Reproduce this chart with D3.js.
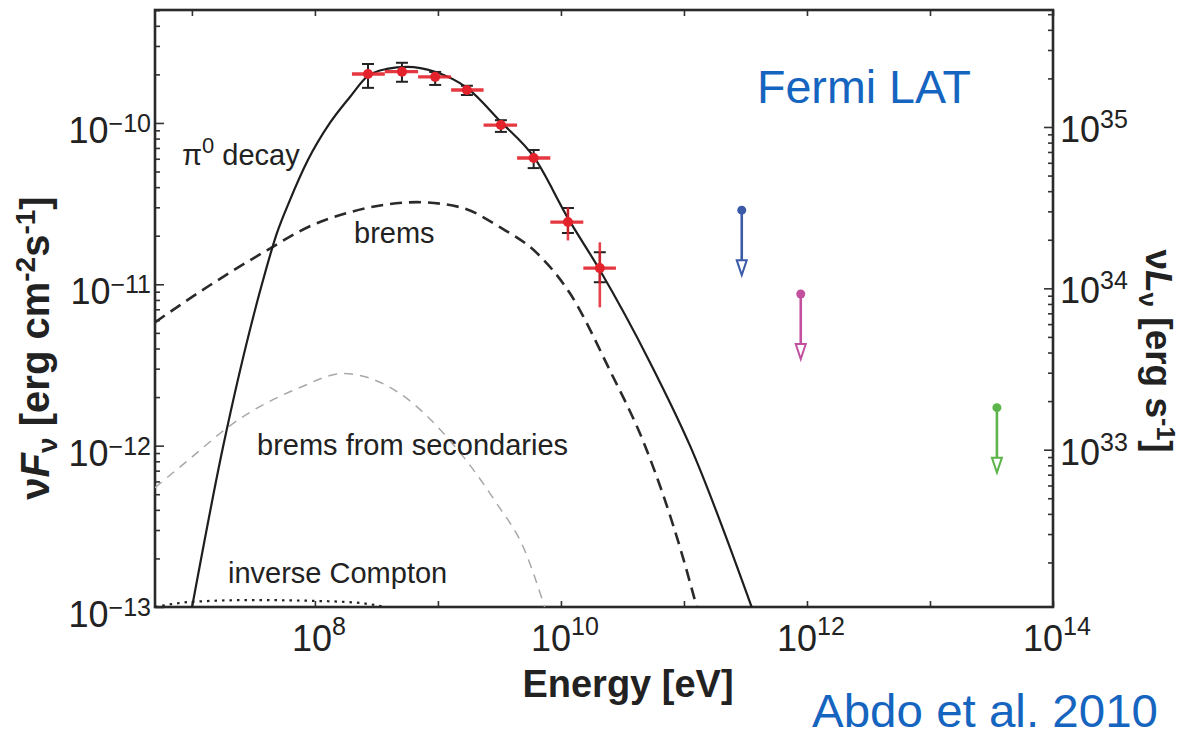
<!DOCTYPE html>
<html>
<head>
<meta charset="utf-8">
<script src="https://cdn.jsdelivr.net/npm/d3@7"></script>
<style>
  body { margin: 0; background: #fff; }
  svg { display: block; }
  text { font-family: "Liberation Sans", Arial, Helvetica, sans-serif; fill: #222; }
</style>
</head>
<body>
<svg id="lienzo" width="1185" height="736"></svg>
<script>

// Fermi LAT points (energy in eV, nuFnu in erg cm^-2 s^-1)
const energy   = [2.7e8, 5.1e8, 9.5e8, 1.72e9, 3.25e9, 6.0e9, 1.14e10, 2.07e10];
const binEdges = [2.0e8, 3.7e8, 6.9e8, 1.28e9, 2.35e9, 4.4e9, 8.2e9, 1.52e10, 2.8e10];
const flux     = [2.01e-10, 2.08e-10, 1.93e-10, 1.60e-10, 9.7e-11, 6.07e-11, 2.43e-11, 1.26e-11];
const fluxLo   = [1.65e-10, 1.80e-10, 1.72e-10, 1.49e-10, 8.8e-11, 5.25e-11, 2.08e-11, 1.03e-11];
const fluxHi   = [2.32e-10, 2.36e-10, 2.07e-10, 1.70e-10, 1.04e-10, 6.8e-11, 2.97e-11, 1.58e-11];
const sysLo    = [1.90e-10, 1.97e-10, 1.83e-10, 1.52e-10, 9.2e-11, 5.7e-11, 1.87e-11, 7.2e-12];
const sysHi    = [2.12e-10, 2.20e-10, 2.03e-10, 1.68e-10, 1.02e-10, 6.45e-11, 3.0e-11, 1.82e-11];

// upper limits (TeV instruments)
const ulEnergy = [2.95e11, 8.9e11, 3.5e13];
const ulFlux   = [2.88e-11, 8.7e-12, 1.72e-12];
const ulColor  = ['#3b5ba9', '#c2509e', '#5cb54a'];

// model curves, log10 E [eV] vs log10 nuFnu
const pi0LogE = [7.0, 7.252, 7.569, 7.691, 7.797, 7.943, 8.122, 8.285, 8.431, 8.585, 8.748, 8.976, 9.236, 9.512, 9.780, 10.057, 10.317, 10.724, 11.049, 11.553];
const pi0LogF = [-13.006, -12.012, -11.0, -10.683, -10.478, -10.230, -10.0, -9.839, -9.708, -9.665, -9.652, -9.683, -9.783, -9.994, -10.211, -10.590, -10.913, -11.484, -12.0, -13.006];

const bremsLogE = [6.699, 7.146, 7.610, 7.959, 8.285, 8.829, 9.179, 9.504, 9.805, 10.073, 10.398, 10.683, 10.976, 11.106];
const bremsLogF = [-11.236, -11.006, -10.789, -10.640, -10.553, -10.491, -10.522, -10.646, -10.807, -11.056, -11.534, -12.0, -12.652, -13.006];

const secLogE = [6.699, 6.984, 7.333, 7.878, 8.228, 8.691, 9.098, 9.463, 9.707, 9.870];
const secLogF = [-12.261, -12.081, -11.863, -11.640, -11.553, -11.677, -11.969, -12.342, -12.652, -13.006];

const icLogE = [6.699, 6.984, 7.472, 8.041, 8.366, 8.610];
const icLogF = [-13.0, -12.969, -12.957, -12.963, -12.975, -13.006];

const xDecades = [7, 8, 9, 10, 11, 12, 13, 14];
const xLabelDecades = [8, 10, 12, 14];
const yDecades = [-13, -12, -11, -10];
const yRightDecades = [33, 34, 35];

const svg = d3.select('#lienzo');
const L = 155, R = 1053, T = 10, B = 607;

const x = d3.scaleLog().domain([10 ** 6.7, 1e14]).range([L, R]);
const y = d3.scaleLog().domain([1e-13, 10 ** -9.3]).range([B, T]);
// right axis: luminosity, offset from flux by a constant factor
const lumFactor = 10 ** 45.025;
const yR = d3.scaleLog().domain([1e-13 * lumFactor, 10 ** -9.3 * lumFactor]).range([B, T]);

svg.append('defs').append('clipPath').attr('id', 'plotClip')
  .append('rect').attr('x', L).attr('y', T).attr('width', R - L).attr('height', B - T);

// minor tick values for log axes
function minors(scale) {
  const [a, b] = scale.domain().map(Math.log10);
  const out = [];
  for (let e = Math.floor(a); e <= Math.ceil(b); e++) {
    for (let m = 2; m <= 9; m++) {
      const v = m * 10 ** e;
      if (v >= scale.domain()[0] && v <= scale.domain()[1]) out.push(v);
    }
  }
  return out;
}

function styleAxis(g) {
  g.select('.domain').remove();
  g.selectAll('.tick line').attr('stroke', '#333').attr('stroke-width', 1.6);
  g.selectAll('.tick text').remove();
}

// x ticks (bottom pointing up, top pointing down)
svg.append('g').attr('transform', `translate(0,${B})`)
  .call(d3.axisTop(x).tickValues(xDecades.map(d => 10 ** d)).tickSize(6))
  .call(styleAxis);
svg.append('g').attr('transform', `translate(0,${T})`)
  .call(d3.axisBottom(x).tickValues(xDecades.map(d => 10 ** d)).tickSize(6))
  .call(styleAxis);

// left y ticks
svg.append('g').attr('transform', `translate(${L},0)`)
  .call(d3.axisRight(y).tickValues(yDecades.map(d => 10 ** d)).tickSize(9))
  .call(styleAxis);
svg.append('g').attr('transform', `translate(${L},0)`)
  .call(d3.axisRight(y).tickValues(minors(y)).tickSize(5))
  .call(styleAxis);

// right y ticks
svg.append('g').attr('transform', `translate(${R},0)`)
  .call(d3.axisLeft(yR).tickValues(yRightDecades.map(d => 10 ** d)).tickSize(9))
  .call(styleAxis);
svg.append('g').attr('transform', `translate(${R},0)`)
  .call(d3.axisLeft(yR).tickValues(minors(yR)).tickSize(5))
  .call(styleAxis);

// frame
svg.append('rect')
  .attr('x', L).attr('y', T).attr('width', R - L).attr('height', B - T)
  .attr('fill', 'none').attr('stroke', '#2a2a2a').attr('stroke-width', 2.6);

// tick labels as 10^n
function powerLabel(g, px, py, anchor, exp, supDy) {
  const t = g.append('text').attr('x', px).attr('y', py).attr('text-anchor', anchor);
  t.append('tspan').attr('font-size', 36).text('10');
  t.append('tspan').attr('font-size', 25).attr('dy', supDy).text(String(exp).replace('-', '\u2212'));
}

const labels = svg.append('g');
xLabelDecades.forEach(d => powerLabel(labels, x(10 ** d) + 4, 651, 'middle', d, -16));
yDecades.forEach(d => powerLabel(labels, 151, y(10 ** d) + 20, 'end', d, -11));
yRightDecades.forEach(d => powerLabel(labels, 1060, yR(10 ** d) + 15, 'start', d, -14));

// model curves
const line = d3.line()
  .x(d => x(10 ** d[0]))
  .y(d => y(10 ** d[1]))
  .curve(d3.curveMonotoneX);

const curves = svg.append('g').attr('clip-path', 'url(#plotClip)');

curves.append('path')
  .attr('d', line(icLogE.map((e, i) => [e, icLogF[i]])))
  .attr('fill', 'none').attr('stroke', '#222').attr('stroke-width', 2.2)
  .attr('stroke-dasharray', '2.5,5');

curves.append('path')
  .attr('d', line(secLogE.map((e, i) => [e, secLogF[i]])))
  .attr('fill', 'none').attr('stroke', '#a8a8a8').attr('stroke-width', 1.5)
  .attr('stroke-dasharray', '9,7');

curves.append('path')
  .attr('d', line(bremsLogE.map((e, i) => [e, bremsLogF[i]])))
  .attr('fill', 'none').attr('stroke', '#2a2a2a').attr('stroke-width', 2.6)
  .attr('stroke-dasharray', '12,7');

curves.append('path')
  .attr('d', line(pi0LogE.map((e, i) => [e, pi0LogF[i]])))
  .attr('fill', 'none').attr('stroke', '#1e1e1e').attr('stroke-width', 2.2);

// data points: black stat errors, red bins + systematics
const pts = svg.append('g');
energy.forEach((e, i) => {
  const cx = x(e);
  pts.append('line')
    .attr('x1', cx).attr('x2', cx).attr('y1', y(fluxLo[i])).attr('y2', y(fluxHi[i]))
    .attr('stroke', '#222').attr('stroke-width', 2);
  [fluxLo[i], fluxHi[i]].forEach(v => {
    pts.append('line')
      .attr('x1', cx - 6).attr('x2', cx + 6).attr('y1', y(v)).attr('y2', y(v))
      .attr('stroke', '#222').attr('stroke-width', 2);
  });
});
energy.forEach((e, i) => {
  const cx = x(e), cy = y(flux[i]);
  pts.append('line')
    .attr('x1', x(binEdges[i])).attr('x2', x(binEdges[i + 1])).attr('y1', cy).attr('y2', cy)
    .attr('stroke', '#e3222c').attr('stroke-width', 3.4).attr('opacity', 0.9);
  pts.append('line')
    .attr('x1', cx).attr('x2', cx).attr('y1', y(sysLo[i])).attr('y2', y(sysHi[i]))
    .attr('stroke', '#e3222c').attr('stroke-width', 2.6).attr('opacity', 0.85);
  pts.append('circle')
    .attr('cx', cx).attr('cy', cy).attr('r', 5).attr('fill', '#e3222c');
});

// upper limits with arrows
ulEnergy.forEach((e, i) => {
  const cx = x(e), cy = y(ulFlux[i]);
  const g = svg.append('g').attr('stroke', ulColor[i]).attr('fill', ulColor[i]);
  g.append('line').attr('x1', cx).attr('x2', cx).attr('y1', cy).attr('y2', cy + 50)
    .attr('stroke-width', 2.6);
  g.append('path')
    .attr('d', `M${cx - 5},${cy + 50}L${cx + 5},${cy + 50}L${cx},${cy + 65}Z`)
    .attr('fill', '#fff').attr('stroke-width', 2);
  g.append('circle').attr('cx', cx).attr('cy', cy).attr('r', 4.5).attr('stroke', 'none');
});

// curve annotations
const pi = svg.append('text').attr('x', 182).attr('y', 165).attr('font-size', 29);
pi.append('tspan').text('\u03c0');
pi.append('tspan').attr('font-size', 22).attr('dy', -12).text('0');
pi.append('tspan').attr('dy', 12).text(' decay');

svg.append('text').attr('x', 354).attr('y', 243).attr('font-size', 29).text('brems');
svg.append('text').attr('x', 257).attr('y', 455).attr('font-size', 29).text('brems from secondaries');
svg.append('text').attr('x', 228).attr('y', 583).attr('font-size', 29).text('inverse Compton');

// axis titles
svg.append('text')
  .attr('x', 628).attr('y', 697).attr('text-anchor', 'middle')
  .attr('font-size', 38).attr('font-weight', 'bold')
  .text('Energy [eV]');

const yl = svg.append('text')
  .attr('transform', 'translate(49,348) rotate(-90)')
  .attr('text-anchor', 'middle').attr('font-size', 40).attr('font-weight', 'bold');
yl.append('tspan').text('\u03bd');
yl.append('tspan').attr('font-style', 'italic').text('F');
yl.append('tspan').attr('font-size', 28).attr('dy', 8).text('\u03bd');
yl.append('tspan').attr('dy', -8).text(' [erg cm');
yl.append('tspan').attr('font-size', 28).attr('dy', -14).text('-2');
yl.append('tspan').attr('dy', 14).text('s');
yl.append('tspan').attr('font-size', 28).attr('dy', -14).text('-1');
yl.append('tspan').attr('dy', 14).text(']');

const yr = svg.append('text')
  .attr('transform', 'translate(1146,351) rotate(90)')
  .attr('text-anchor', 'middle').attr('font-size', 37).attr('font-weight', 'bold');
yr.append('tspan').text('\u03bd');
yr.append('tspan').attr('font-style', 'italic').text('L');
yr.append('tspan').attr('font-size', 26).attr('dy', 7).text('\u03bd');
yr.append('tspan').attr('dy', -7).text(' [erg s');
yr.append('tspan').attr('font-size', 25).attr('dy', -11).text('-1');
yr.append('tspan').attr('dy', 11).text(']');

// blue captions
svg.append('text').attr('x', 757).attr('y', 103).attr('font-size', 46)
  .attr('textLength', 214).attr('lengthAdjust', 'spacingAndGlyphs')
  .style('fill', '#1565c0').text('Fermi LAT');
svg.append('text').attr('x', 812).attr('y', 727).attr('font-size', 46)
  .attr('textLength', 346).attr('lengthAdjust', 'spacingAndGlyphs')
  .style('fill', '#1565c0').text('Abdo et al. 2010');

</script>
</body>
</html>
